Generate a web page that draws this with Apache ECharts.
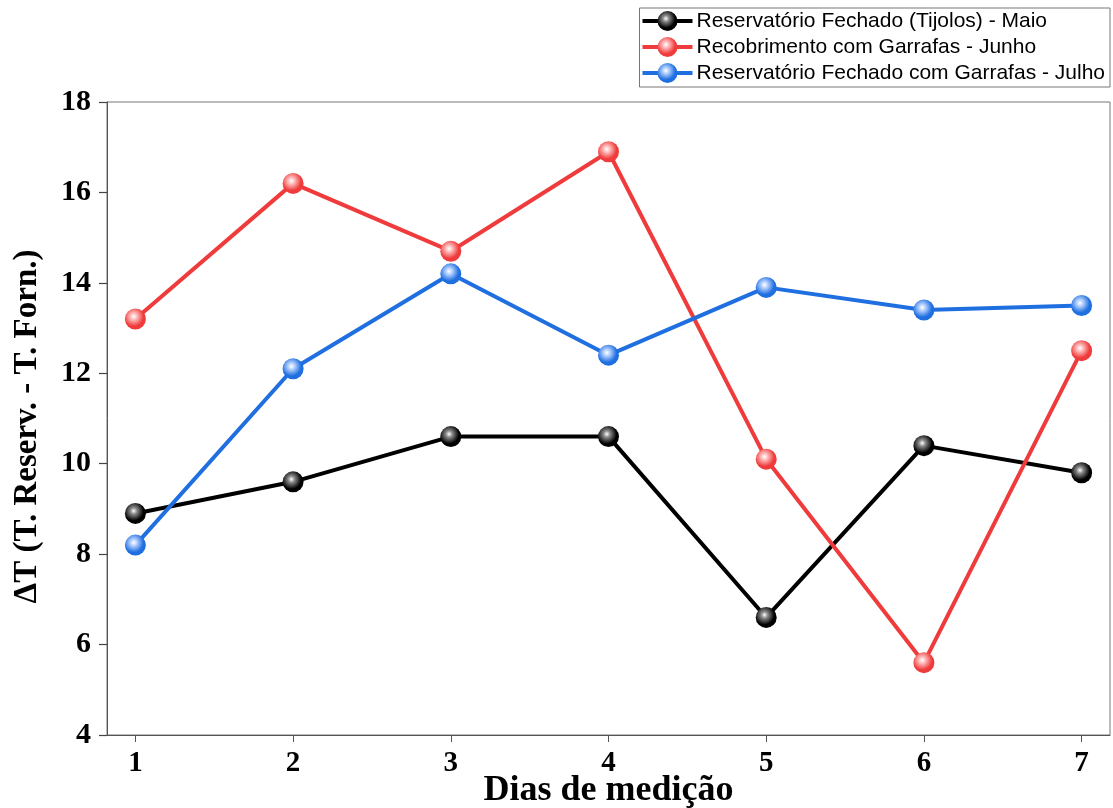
<!DOCTYPE html>
<html><head><meta charset="utf-8">
<script src="https://cdn.jsdelivr.net/npm/echarts@6/dist/echarts.min.js"></script>
<style>html,body{margin:0;padding:0;background:#fff}#c{width:1113px;height:808px}</style>
</head><body><div id="c"></div>
<script>
const days = [1, 2, 3, 4, 5, 6, 7];
const yTicks = [4, 6, 8, 10, 12, 14, 16, 18];
const seriesNames = [
  'Reservatório Fechado (Tijolos) - Maio',
  'Recobrimento com Garrafas - Junho',
  'Reservatório Fechado com Garrafas - Julho'
];
const maio = [8.9, 9.6, 10.6, 10.6, 6.6, 10.4, 9.8];
const junho = [13.2, 16.2, 14.7, 16.9, 10.1, 5.6, 12.5];
const julho = [8.2, 12.1, 14.2, 12.4, 13.9, 13.4, 13.5];
const xTitle = 'Dias de medição';
const yTitle = 'ΔT (T. Reserv. - T. Forn.)';

const colors = ['#000000', '#ef3b3b', '#1f6fe0'];
const hi = ['#8a8a8a', '#ffbcbc', '#b4d0ff'];
function sphere(i) {
  return {type: 'radial', x: 0.42, y: 0.38, r: 0.62,
    colorStops: [{offset: 0, color: '#ffffff'}, {offset: 0.25, color: hi[i]}, {offset: 0.75, color: colors[i]}, {offset: 1, color: colors[i]}]};
}
const datasets = [maio, junho, julho];
const chart = echarts.init(document.getElementById('c'));
chart.setOption({
  animation: false,
  backgroundColor: '#fff',
  grid: {left: 107, top: 102, right: 3, bottom: 73, show: true, borderColor: '#777', borderWidth: 1,
    containLabel: false, outerBoundsMode: 'none'},
  legend: {
    orient: 'vertical', right: 3, top: 8, itemGap: 4, itemWidth: 50, itemHeight: 25,
    padding: [2, 5, 3, 1], borderColor: '#777', borderWidth: 1, backgroundColor: '#fff',
    lineStyle: {width: 4},
    textStyle: {fontFamily: 'Liberation Sans', fontSize: 21, lineHeight: 22, color: '#000', padding: [0, 0, 0, -1]},
    data: seriesNames
  },
  xAxis: {
    type: 'value', min: 0.82, max: 7.18,
    name: xTitle, nameLocation: 'middle', nameGap: 38, nameMoveOverlap: false,
    nameTextStyle: {fontFamily: 'Liberation Serif', fontWeight: 'bold', fontSize: 36, color: '#000'},
    axisLine: {show: true, lineStyle: {color: '#555', width: 1}},
    axisTick: {show: true, length: 7, customValues: days, lineStyle: {color: '#555'}},
    axisLabel: {customValues: days, margin: 14, fontFamily: 'Liberation Serif', fontWeight: 'bold', fontSize: 29, color: '#000'},
    splitLine: {show: false}
  },
  yAxis: {
    type: 'value', min: 4, max: 18, interval: 2,
    name: yTitle, nameLocation: 'middle', nameGap: 63, nameMoveOverlap: false,
    nameTextStyle: {fontFamily: 'Liberation Serif', fontWeight: 'bold', fontSize: 33, color: '#000', padding: [0, 16, 0, 0]},
    axisLine: {show: true, lineStyle: {color: '#555', width: 1}},
    axisTick: {show: true, inside: false, length: 8, lineStyle: {color: '#444', width: 1.2}},
    axisLabel: {margin: 16, fontFamily: 'Liberation Serif', fontWeight: 'bold', fontSize: 30, color: '#000'},
    splitLine: {show: false}
  },
  series: datasets.map((d, i) => ({
    name: seriesNames[i], type: 'line',
    data: d.map((v, k) => [days[k], v]),
    symbol: 'circle', symbolSize: 21,
    lineStyle: {color: colors[i], width: 4},
    itemStyle: {color: sphere(i), borderWidth: 0},
    z: 2 + i
  }))
});
</script></body></html>
